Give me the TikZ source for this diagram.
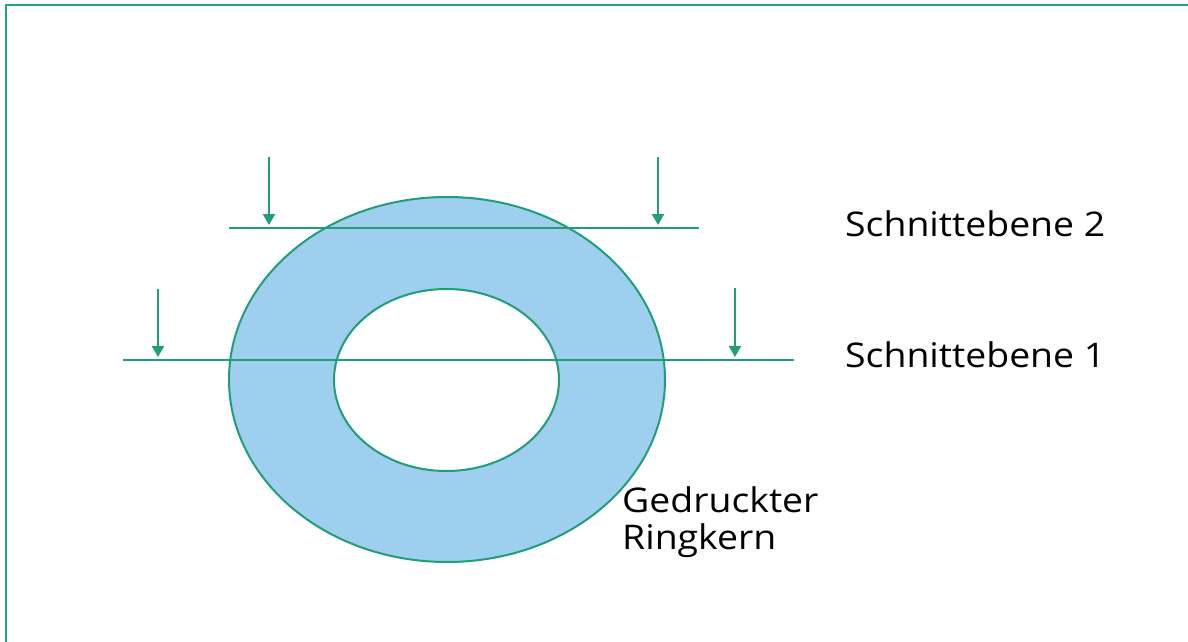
\documentclass[tikz,border=0pt]{standalone}
\usepackage{fontspec}
\setmainfont[FakeStretch=1.1]{Open Sans}
\usetikzlibrary{arrows.meta}
\definecolor{frameg}{HTML}{22A47E}
\definecolor{lineg}{HTML}{1F9E78}
\definecolor{ringfill}{HTML}{9ECFEF}
\tikzset{
  cutline/.style={draw=lineg, line width=2.3pt},
  cutarrow/.style={draw=lineg, line width=2.3pt, -{Triangle[width=12pt,length=11pt]}},
  lbl/.style={font=\fontsize{34}{37}\selectfont, text=black, inner sep=0pt, anchor=base west, align=left},
}
\begin{document}
\begin{tikzpicture}[x=1pt,y=-1pt]
\useasboundingbox (0,0) rectangle (1188,642);
% frame
\draw[frameg, line width=2.8pt] (6,642) -- (6,5) -- (1188,5);
% ring
\fill[ringfill, even odd rule] (447,379.5) ellipse [x radius=218, y radius=182.5]
  (446.5,380) ellipse [x radius=112.5, y radius=91];
\draw[lineg, line width=2pt] (447,379.5) ellipse [x radius=218, y radius=182.5];
\draw[lineg, line width=2pt] (446.5,380) ellipse [x radius=112.5, y radius=91];
% cut planes
\coordinate (p2a) at (229,228); \coordinate (p2b) at (699,228);
\coordinate (p1a) at (123,360); \coordinate (p1b) at (794,360);
\draw[cutline] (p2a) -- (p2b);
\draw[cutline] (p1a) -- (p1b);
\coordinate (a1s) at (269,157); \coordinate (a1e) at (269,225);
\coordinate (a2s) at (658,157); \coordinate (a2e) at (658,225);
\coordinate (a3s) at (158,289); \coordinate (a3e) at (158,357);
\coordinate (a4s) at (735,288); \coordinate (a4e) at (735,357);
\draw[cutarrow] (a1s) -- (a1e);
\draw[cutarrow] (a2s) -- (a2e);
\draw[cutarrow] (a3s) -- (a3e);
\draw[cutarrow] (a4s) -- (a4e);
% labels
\node[lbl] (s2) at (845,236) {Schnittebene 2};
\node[lbl] (s1) at (845,367) {Schnittebene 1};
\node[lbl] (g1) at (622,512) {Gedruckter};
\node[lbl] (g2) at (622,549) {Ringkern};
\end{tikzpicture}
\end{document}
